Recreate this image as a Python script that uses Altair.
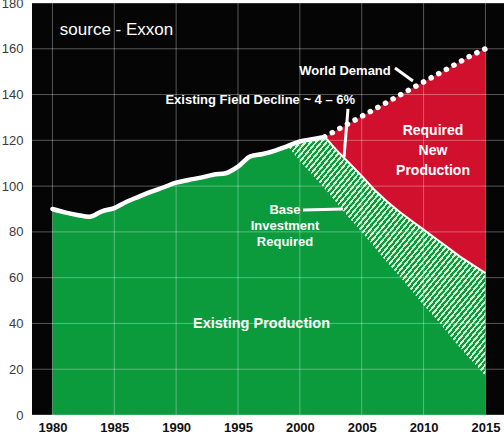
import altair as alt
import pandas as pd

# ---- data -------------------------------------------------------------
hist_years = list(range(1980, 2003))
hist_prod = [90, 88.5, 87.4, 86.6, 89, 90.4, 93.2, 95.4, 97.6, 99.5, 101.5,
             102.7, 103.7, 105, 105.6, 108.5, 113, 114, 115.5, 117.5, 119.5,
             120.5, 121.5]

proj_years = list(range(2002, 2016))
decline = [121.5, 115.5, 110, 104.5, 98.5, 93.5, 89, 85, 81, 77, 73, 69, 65.5, 62]
demand = [121.5, 124.5, 127.5, 130.5, 133.5, 136.5, 139.5, 142.5, 145.5,
          148.5, 151.5, 154.5, 157.5, 160]

base_years = list(range(1999, 2016))
base_floor = [117.5, 111, 105, 99, 92.5, 86, 80, 73.5, 67, 61, 54.5, 48, 42,
              35.5, 29, 23, 17]

x_ticks = [1980, 1985, 1990, 1995, 2000, 2005, 2010, 2015]
y_ticks = [0, 20, 40, 60, 80, 100, 120, 140, 160, 180]

# ---- styling ----------------------------------------------------------
GREEN = "#0b9a3c"
RED = "#d0102c"
STRIPE = "#d4f3d2"
FONT = "Liberation Sans"

existing = pd.DataFrame({
    "year": hist_years + proj_years[1:],
    "value": hist_prod + decline[1:],
})
hist_df = pd.DataFrame({"year": hist_years, "value": hist_prod})
proj_df = pd.DataFrame({"year": proj_years, "decline": decline, "demand": demand})

top_lookup = dict(zip(hist_years, hist_prod))
top_lookup.update(dict(zip(proj_years, decline)))
base_df = pd.DataFrame({
    "year": base_years,
    "top": [top_lookup[y] for y in base_years],
    "floor": base_floor,
})

xs = alt.Scale(domain=[1978.35, 2016.5], nice=False, zero=False)
ys = alt.Scale(domain=[0, 180], nice=False)

X = alt.X("year:Q", scale=xs, axis=alt.Axis(
    values=x_ticks, format="d", title=None, grid=False, ticks=False,
    domain=False, labelFont=FONT, labelFontWeight="bold", labelFontSize=13,
    labelColor="#111", labelPadding=6))
Y_AX = alt.Axis(values=y_ticks, title=None, grid=False, ticks=False,
                domain=False, labelFont=FONT, labelFontSize=13,
                labelColor="#3a3a3a", labelPadding=9)

green = alt.Chart(existing).mark_area(color=GREEN, interpolate="monotone").encode(
    x=X, y=alt.Y("value:Q", scale=ys, axis=Y_AX))

red = alt.Chart(proj_df).mark_area(color=RED).encode(
    x="year:Q", y="demand:Q", y2="decline:Q")

# diagonal hatching through a hard-stop linear gradient
n_stripes = 75
stops = []
for i in range(n_stripes):
    a = i / n_stripes
    b = (i + 0.45) / n_stripes
    c = (i + 1) / n_stripes
    stops += [alt.GradientStop(offset=a, color=STRIPE),
              alt.GradientStop(offset=b, color=STRIPE),
              alt.GradientStop(offset=b, color=GREEN),
              alt.GradientStop(offset=c, color=GREEN)]
hatch_fill = alt.Gradient(gradient="linear", stops=stops, x1=0, y1=0, x2=1, y2=1)

hatch = alt.Chart(base_df).mark_area(color=hatch_fill, interpolate="monotone").encode(
    x="year:Q", y="top:Q", y2="floor:Q")

grid_x = alt.Chart(pd.DataFrame({"t": x_ticks})).mark_rule(
    color="white", opacity=0.33, strokeWidth=1).encode(x="t:Q")
grid_y = alt.Chart(pd.DataFrame({"t": y_ticks})).mark_rule(
    color="white", opacity=0.33, strokeWidth=1).encode(y="t:Q")

decline_line = alt.Chart(proj_df).mark_line(color="white", strokeWidth=2).encode(
    x="year:Q", y="decline:Q")

hist_line = alt.Chart(hist_df).mark_line(
    color="white", strokeWidth=4.5, interpolate="monotone", strokeCap="round").encode(
    x="year:Q", y="value:Q")

demand_line = alt.Chart(proj_df).mark_line(
    color="white", strokeWidth=5.5, strokeDash=[0.1, 8.6], strokeCap="round").encode(
    x="year:Q", y="demand:Q")

# annotation text
lab_text = ["World Demand", "Existing Field Decline ~ 4 – 6%",
            "Required", "New", "Production",
            "Base", "Investment", "Required",
            "Existing Production"]
lab_year = [2003.65, 1996.8, 2010.76, 2010.76, 2010.76, 1998.8, 1998.8, 1998.8, 1996.9]
lab_val = [150.3, 137.6, 124.1, 115.3, 106.6, 89.6, 82.6, 75.6, 39.8]
lab_size = [13, 13, 14, 14, 14, 13, 13, 13, 14.5]
labels = pd.DataFrame({"text": lab_text, "year": lab_year, "value": lab_val,
                       "size": lab_size})
texts = alt.Chart(labels).mark_text(
    font=FONT, fontWeight="bold", color="white", align="center",
    baseline="middle").encode(
    x="year:Q", y="value:Q", text="text:N",
    size=alt.Size("size:Q", scale=None, legend=None))

source = alt.Chart(pd.DataFrame({"text": ["source - Exxon"], "year": [1980.6],
                                 "value": [168.2]})).mark_text(
    font=FONT, fontSize=17, color="white", align="left", baseline="middle").encode(
    x="year:Q", y="value:Q", text="text:N")

# leader lines
ptr = pd.DataFrame({
    "x0": [2007.69, 2003.89, 2000.25],
    "y0": [151.6, 133.7, 89.6],
    "x1": [2009.14, 2003.57, 2003.48],
    "y1": [145.9, 112.7, 90.0],
})
pointers = alt.Chart(ptr).mark_rule(color="white", strokeWidth=3).encode(
    x="x0:Q", y="y0:Q", x2="x1:Q", y2="y1:Q")

chart = alt.layer(
    green, red, hatch, grid_x, grid_y, decline_line, hist_line, demand_line,
    texts, source, pointers
).properties(
    width=472, height=412,
    autosize=alt.AutoSizeParams(type="none"),
    padding={"left": 32, "top": 3, "right": 0, "bottom": 22},
    background="white",
).configure_view(fill="#050505", stroke=None)

chart.save("out.html", embed_options={"renderer": "svg", "actions": False})
